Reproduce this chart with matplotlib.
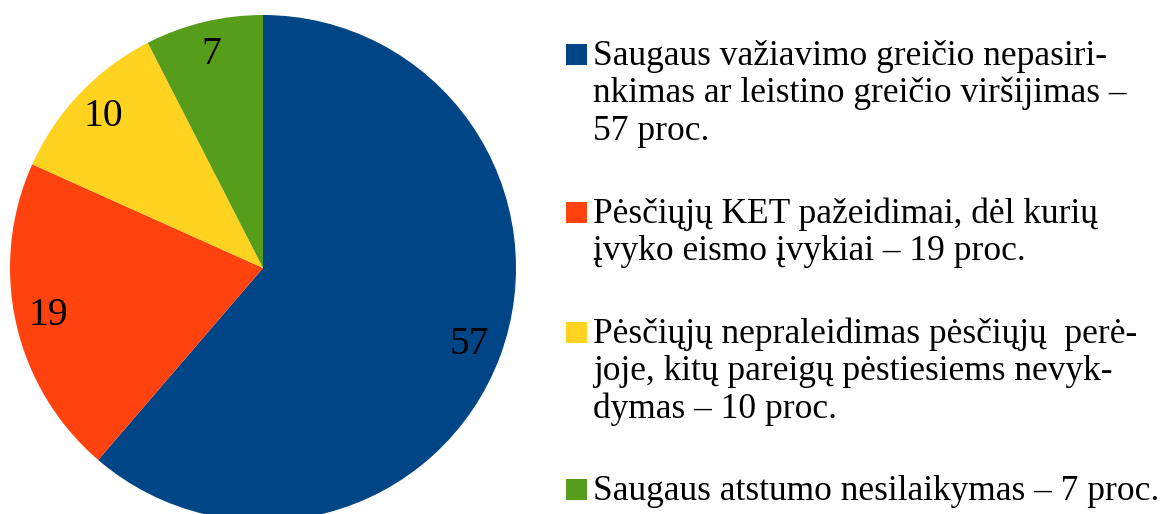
import matplotlib.pyplot as plt
from matplotlib.patches import Rectangle

plt.rcParams['font.family'] = ['Liberation Serif', 'DejaVu Serif']

values = [57, 19, 10, 7]
colors = ['#004586', '#ff420e', '#ffd320', '#579d1c']
labels = [
    "Saugaus važiavimo greičio nepasiri-\nnkimas ar leistino greičio viršijimas –\n57 proc.",
    "Pėsčiųjų KET pažeidimai, dėl kurių\nįvyko eismo įvykiai – 19 proc.",
    "Pėsčiųjų nepraleidimas pėsčiųjų  perė-\njoje, kitų pareigų pėstiesiems nevyk-\ndymas – 10 proc.",
    "Saugaus atstumo nesilaikymas – 7 proc.",
]
W, H = 1160, 514
fig = plt.figure(figsize=(W / 100, H / 100), dpi=100)

# pie centre (263, 268) px, radius 253 px
cx, cy, r = 263, 268, 253
ax = fig.add_axes([(cx - r) / W, (H - cy - r) / H, 2 * r / W, 2 * r / H])
total = sum(values)
wedges, _, autotexts = ax.pie(values, colors=colors, startangle=90, counterclock=False,
                              autopct=lambda p: f"{p * total / 100:.0f}", pctdistance=0.87,
                              textprops=dict(fontsize=28.5, color='black'))
ax.set_xlim(-1, 1)
ax.set_ylim(-1, 1)
ax.set_aspect('equal')
ax.axis('off')

# legend, drawn by hand: one baseline per line
baselines = [65, 223, 343, 500]
step = 37.5
for lab, col, yb in zip(labels, colors, baselines):
    fig.patches.append(Rectangle((566 / W, (H - yb) / H), 21 / W, 21 / H,
                                 transform=fig.transFigure, facecolor=col, edgecolor='none'))
    for i, line in enumerate(lab.split("\n")):
        fig.text(593 / W, (H - yb - i * step) / H, line, fontsize=25.5, va='baseline', ha='left')

fig.savefig("out.png", dpi=100)
